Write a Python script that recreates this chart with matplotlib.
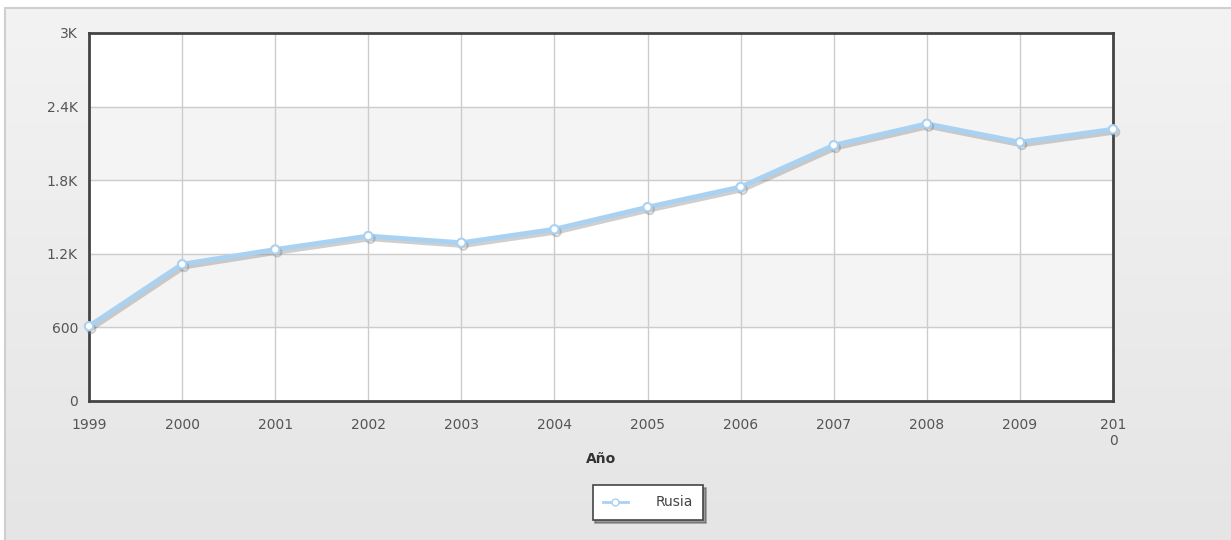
import matplotlib.pyplot as plt
import matplotlib.patheffects as pe
from matplotlib.colors import LinearSegmentedColormap
from matplotlib.lines import Line2D
import numpy as np

# Data
years = [1999, 2000, 2001, 2002, 2003, 2004, 2005, 2006, 2007, 2008, 2009, 2010]
rusia = [610, 1115, 1235, 1345, 1290, 1400, 1580, 1745, 2085, 2260, 2110, 2215]
year_labels = ["1999", "2000", "2001", "2002", "2003", "2004", "2005",
               "2006", "2007", "2008", "2009", "201\n0"]
y_ticks = [0, 600, 1200, 1800, 2400, 3000]
y_labels = ["0", "600", "1.2K", "1.8K", "2.4K", "3K"]

W, H = 1231, 540
fig = plt.figure(figsize=(W / 100, H / 100), dpi=100)
fig.patch.set_facecolor("white")

# panel background: light gray gradient with a thin border top/left
bg = fig.add_axes([0, 0, 1, 1], zorder=-10)
cmap = LinearSegmentedColormap.from_list("panel", ["#f3f3f3", "#e5e5e5"])
grad = np.linspace(0, 1, 256).reshape(-1, 1)
bg.imshow(grad, extent=[5 / W, 1.01, 0, 1 - 8 / H], aspect="auto", cmap=cmap,
          origin="upper")
bg.set_xlim(0, 1)
bg.set_ylim(0, 1)
bg.axis("off")
bg.plot([5 / W, 5 / W, 1.01], [0, 1 - 8 / H, 1 - 8 / H], color="#cfcfcf", lw=1.5)

ax = fig.add_axes([89 / W, 1 - 401 / H, 1024 / W, 368 / H])
ax.set_facecolor("white")

# alternating bands
for lo in [600, 1800]:
    ax.axhspan(lo, lo + 600, color="#f4f4f4", zorder=0)

ax.plot(years, rusia, color="#a9d2f2", lw=3.5, marker="o", markersize=6,
        markerfacecolor="white", markeredgecolor="#a9d2f2", markeredgewidth=1.5,
        zorder=3, clip_on=False,
        path_effects=[pe.SimpleLineShadow(offset=(1.5, -2), shadow_color="#777777", alpha=0.35),
                      pe.Normal()])

ax.set_xlim(1999, 2010)
ax.set_ylim(0, 3000)
ax.set_xticks(years)
ax.set_xticklabels(year_labels, fontsize=10, color="#555555")
ax.set_yticks(y_ticks)
ax.set_yticklabels(y_labels, fontsize=10, color="#555555")
ax.tick_params(axis="x", length=0, pad=12)
ax.tick_params(axis="y", length=0, pad=8)
ax.grid(True, color="#cccccc", lw=1)
ax.set_axisbelow(True)
for s in ax.spines.values():
    s.set_color("#444444")
    s.set_linewidth(2)

ax.set_xlabel("Año", fontsize=10, fontweight="bold", color="#333333", labelpad=3)

handle = Line2D([], [], color="#a9d2f2", lw=2, marker="o", markersize=5,
                markerfacecolor="white", markeredgecolor="#a9d2f2")
leg = ax.legend([handle], ["Rusia"], loc="upper center",
                bbox_to_anchor=(648 / W, 1 - 485 / H),
                bbox_transform=fig.transFigure,
                frameon=True, fancybox=False, shadow=True, fontsize=10,
                handlelength=1.8, borderpad=0.75, handletextpad=2.0,
                borderaxespad=0, edgecolor="#444444")
leg.get_frame().set_linewidth(1.2)
for t in leg.get_texts():
    t.set_color("#444444")

fig.savefig("out.png", dpi=100)
